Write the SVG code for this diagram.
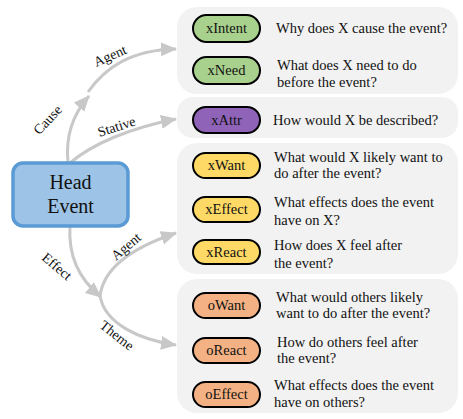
<svg xmlns="http://www.w3.org/2000/svg" width="463" height="419" viewBox="0 0 463 419">
<style>
.grp{fill:#f2f2f2;stroke:none}
.pill{stroke:#000;stroke-width:2}
.g{fill:#a9d18e}.p{fill:#8f63b8}.y{fill:#ffd966}.o{fill:#f4b183}
.t{font-family:"Liberation Serif","Times New Roman",serif;font-size:14.5px;fill:#111}
.pl{font-family:"Liberation Serif","Times New Roman",serif;font-size:14.5px;fill:#111;text-anchor:middle}
.el{font-family:"Liberation Serif","Times New Roman",serif;font-size:14px;fill:#111;text-anchor:middle}
.arr{fill:none;stroke:#c8c8c8;stroke-width:3;marker-end:url(#ah)}
</style>
<defs>
<marker id="ah" markerUnits="userSpaceOnUse" markerWidth="18" markerHeight="16" refX="15" refY="7" orient="auto">
<path d="M0,0 L16,7 L0,14 Z" fill="#c8c8c8"/>
</marker>
</defs>
<g id="groups">
<rect class="grp" x="177" y="7" width="281" height="87" rx="20"/>
<rect class="grp" x="177" y="97" width="281" height="41" rx="16"/>
<rect class="grp" x="177" y="143" width="281" height="131" rx="20"/>
<rect class="grp" x="177" y="279" width="281" height="134" rx="20"/>
</g>
<g id="connectors">
<path class="arr" d="M68,163 Q64,124 89,96"/>
<path class="arr" d="M88,92 C105,68 130,50 176,49"/>
<path class="arr" d="M70,163 C92,144 130,128 176,119"/>
<path class="arr" d="M70,226 C68,256 80,280 101,297"/>
<path class="arr" d="M100,296 C104,264 140,245 176,233"/>
<path class="arr" d="M100,296 C105,324 140,340 176,345"/>
<text class="el" transform="translate(112,60) rotate(-24)">Agent</text>
<text class="el" transform="translate(51,123) rotate(-47)">Cause</text>
<text class="el" transform="translate(118,131) rotate(-18)">Stative</text>
<text class="el" transform="translate(54,270) rotate(40)">Effect</text>
<text class="el" transform="translate(129,250) rotate(-40)">Agent</text>
<text class="el" transform="translate(114,339) rotate(38)">Theme</text>
</g>
<g id="head">
<rect x="13" y="163" width="115" height="63" rx="10" fill="#9dc3e6" stroke="#5b9bd5" stroke-width="3.5"/>
<text class="pl" x="70.5" y="189" style="font-size:20px">Head</text>
<text class="pl" x="70.5" y="213" style="font-size:20px">Event</text>
</g>
<g id="xIntent">
<rect class="pill g" x="193" y="15" width="67" height="27" rx="13.5"/>
<text class="pl" x="226.5" y="33">xIntent</text>
<text class="t" x="276" y="33">Why does X cause the event?</text>
</g>
<g id="xNeed">
<rect class="pill g" x="193" y="57" width="67" height="27" rx="13.5"/>
<text class="pl" x="226.5" y="75">xNeed</text>
<text class="t" x="277" y="70">What does X need to do</text>
<text class="t" x="277" y="87">before the event?</text>
</g>
<g id="xAttr">
<rect class="pill p" x="193" y="107" width="67" height="26" rx="13"/>
<text class="pl" x="226.5" y="125">xAttr</text>
<text class="t" x="273" y="125">How would X be described?</text>
</g>
<g id="xWant">
<rect class="pill y" x="193" y="153" width="67" height="25" rx="12.5"/>
<text class="pl" x="226.5" y="170">xWant</text>
<text class="t" x="274" y="162">What would X likely want to</text>
<text class="t" x="274" y="178">do after the event?</text>
</g>
<g id="xEffect">
<rect class="pill y" x="193" y="197" width="67" height="25" rx="12.5"/>
<text class="pl" x="226.5" y="214">xEffect</text>
<text class="t" x="274" y="207">What effects does the event</text>
<text class="t" x="274" y="225">have on X?</text>
</g>
<g id="xReact">
<rect class="pill y" x="193" y="240" width="67" height="24" rx="12"/>
<text class="pl" x="226.5" y="257">xReact</text>
<text class="t" x="274" y="250">How does X feel after</text>
<text class="t" x="274" y="268">the event?</text>
</g>
<g id="oWant">
<rect class="pill o" x="193" y="293" width="67" height="25" rx="12.5"/>
<text class="pl" x="226.5" y="310">oWant</text>
<text class="t" x="276" y="302">What would others likely</text>
<text class="t" x="276" y="318">want to do after the event?</text>
</g>
<g id="oReact">
<rect class="pill o" x="193" y="338" width="67" height="25" rx="12.5"/>
<text class="pl" x="226.5" y="355">oReact</text>
<text class="t" x="277" y="347">How do others feel after</text>
<text class="t" x="277" y="363">the event?</text>
</g>
<g id="oEffect">
<rect class="pill o" x="193" y="382" width="67" height="25" rx="12.5"/>
<text class="pl" x="226.5" y="399">oEffect</text>
<text class="t" x="274" y="390">What effects does the event</text>
<text class="t" x="274" y="407">have on others?</text>
</g>
</svg>
